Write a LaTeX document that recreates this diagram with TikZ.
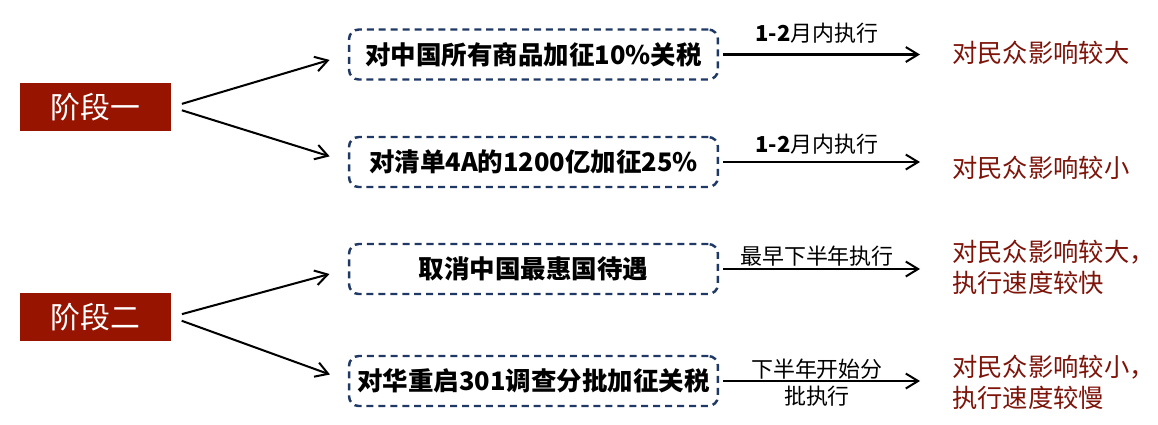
\documentclass[tikz,border=0pt]{standalone}
\usepackage{fontspec}
\newfontfamily\cjk{Noto Sans CJK SC}
\usetikzlibrary{arrows.meta,positioning}
\definecolor{rougeetape}{RGB}{150,20,0}
\definecolor{bleucadre}{RGB}{31,56,100}
\definecolor{rougetexte}{RGB}{125,20,10}

\begin{document}
\begin{tikzpicture}[x=0.02cm,y=-0.02cm,
  etape/.style={fill=rougeetape,text=white,minimum width=3.02cm,minimum height=0.96cm,inner sep=0pt,font=\cjk\fontsize{17}{20}\selectfont},
  cadre/.style={draw=bleucadre,line width=1.4pt,dash pattern=on 4pt off 2.8pt,rounded corners=5.5pt,minimum width=7.38cm,minimum height=1cm,inner sep=0pt,font=\cjk\bfseries\fontsize{14.5}{17}\selectfont},
  effet/.style={anchor=west,text=rougetexte,align=left,inner sep=0pt,font=\cjk\fontsize{14.4}{17.6}\selectfont},
  fleche/.style={-{Straight Barb[length=7pt,width=8.5pt]},line width=1.15pt},
  delai/.style={font=\cjk\fontsize{12.5}{15.3}\selectfont,align=center,inner sep=0pt}]
\useasboundingbox (0,0) rectangle (1158,424);

% Etapes
\node[etape] (etape1) at (95.5,107) {阶段一};
\node[etape] (etape2) at (95.5,317) {阶段二};

% Mesures
\node[cadre] (mesure1) at (533.5,54.5) {对中国所有商品加征10\%关税};
\node[cadre] (mesure2) at (533.5,162) {对清单4A的1200亿加征25\%};
\node[cadre] (mesure3) at (533.5,269) {取消中国最惠国待遇};
\node[cadre] (mesure4) at (533.5,381) {对华重启301调查分批加征关税};

% Effets
\node[effet] (effet1) at (952,53) {对民众影响较大};
\node[effet] (effet2) at (952,168) {对民众影响较小};
\node[effet] (effet3) at (952,267.5) {对民众影响较大，\\执行速度较快};
\node[effet] (effet4) at (952,382) {对民众影响较小，\\执行速度较慢};

% Flèches
\foreach \e/\m in {etape1/mesure1,etape1/mesure2,etape2/mesure3,etape2/mesure4}
  \draw[fleche,shorten <=0.22cm,shorten >=0.38cm] (\e.east) -- (\m.west);

\draw[fleche,shorten <=0.08cm,shorten >=0.64cm] (mesure1.east) -- (mesure1.east -| effet1.west)
  node[delai,pos=0.42,yshift=0.43cm] (delai1) {{\bfseries 1-2}月内执行};
\draw[fleche,shorten <=0.08cm,shorten >=0.64cm] (mesure2.east) -- (mesure2.east -| effet2.west)
  node[delai,pos=0.42,yshift=0.36cm] (delai2) {{\bfseries 1-2}月内执行};
\draw[fleche,shorten <=0.08cm,shorten >=0.64cm] (mesure3.east) -- (mesure3.east -| effet3.west)
  node[delai,pos=0.42,yshift=0.26cm] (delai3) {最早下半年执行};
\draw[fleche,shorten <=0.08cm,shorten >=0.64cm] (mesure4.east) -- (mesure4.east -| effet4.west)
  node[delai,pos=0.42,yshift=-0.04cm] (delai4) {下半年开始分\\批执行};
\end{tikzpicture}
\end{document}
